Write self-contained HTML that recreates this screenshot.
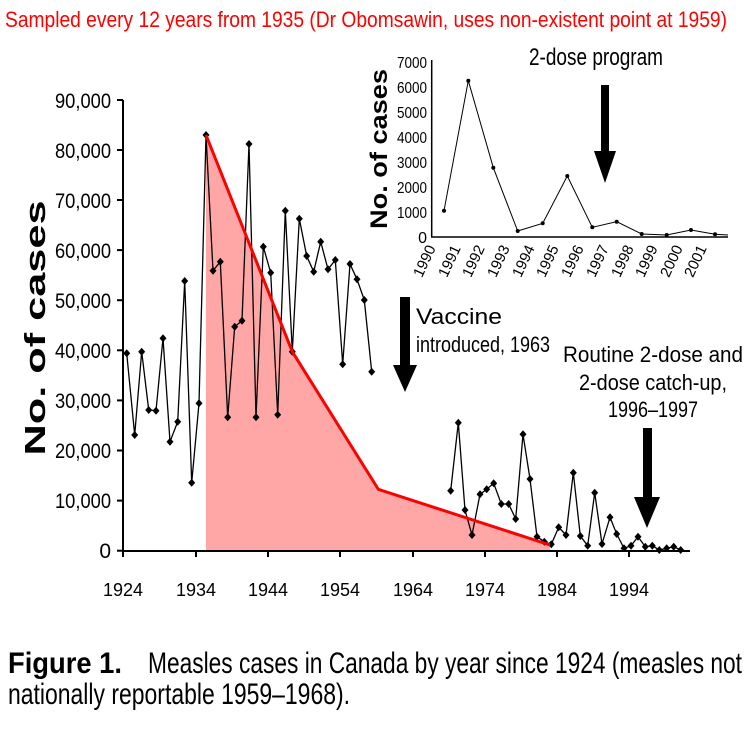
<!DOCTYPE html>
<html><head><style>
html,body{margin:0;padding:0;background:#fff;}
svg{display:block;}
text{font-family:"Liberation Sans",sans-serif;}
</style></head><body>
<svg width="747" height="748" viewBox="0 0 747 748" xmlns="http://www.w3.org/2000/svg">
<rect width="747" height="748" fill="#fff"/>
<text x="5" y="27" font-size="22" fill="#f00" textLength="722" lengthAdjust="spacingAndGlyphs">Sampled every 12 years from 1935 (Dr Obomsawin, uses non-existent point at 1959)</text>

<polygon points="206,550 206,135 292.3,351.7 378.3,489.3 550,545 550,550" fill="#ffa6a6"/>

<line x1="123" y1="100" x2="123" y2="551" stroke="#000" stroke-width="2"/>
<line x1="122" y1="551" x2="690" y2="551" stroke="#000" stroke-width="2"/>
<g stroke="#000" stroke-width="2">
<line x1="117" y1="550.7" x2="123" y2="550.7"/><line x1="117" y1="500.6" x2="123" y2="500.6"/>
<line x1="117" y1="450.5" x2="123" y2="450.5"/><line x1="117" y1="400.4" x2="123" y2="400.4"/>
<line x1="117" y1="350.3" x2="123" y2="350.3"/><line x1="117" y1="300.2" x2="123" y2="300.2"/>
<line x1="117" y1="250.1" x2="123" y2="250.1"/><line x1="117" y1="200" x2="123" y2="200"/>
<line x1="117" y1="150" x2="123" y2="150"/><line x1="117" y1="100" x2="123" y2="100"/>
<line x1="123" y1="551" x2="123" y2="557"/><line x1="196" y1="551" x2="196" y2="557"/>
<line x1="268" y1="551" x2="268" y2="557"/><line x1="340" y1="551" x2="340" y2="557"/>
<line x1="413" y1="551" x2="413" y2="557"/><line x1="485" y1="551" x2="485" y2="557"/>
<line x1="557" y1="551" x2="557" y2="557"/><line x1="629" y1="551" x2="629" y2="557"/>
</g>
<g font-size="21" text-anchor="end">
<text x="111" y="558">0</text><text x="111" y="508" textLength="56" lengthAdjust="spacingAndGlyphs">10,000</text><text x="111" y="458" textLength="56" lengthAdjust="spacingAndGlyphs">20,000</text>
<text x="111" y="408" textLength="56" lengthAdjust="spacingAndGlyphs">30,000</text><text x="111" y="358" textLength="56" lengthAdjust="spacingAndGlyphs">40,000</text><text x="111" y="308" textLength="56" lengthAdjust="spacingAndGlyphs">50,000</text>
<text x="111" y="258" textLength="56" lengthAdjust="spacingAndGlyphs">60,000</text><text x="111" y="208" textLength="56" lengthAdjust="spacingAndGlyphs">70,000</text><text x="111" y="158" textLength="56" lengthAdjust="spacingAndGlyphs">80,000</text>
<text x="111" y="108" textLength="56" lengthAdjust="spacingAndGlyphs">90,000</text>
</g>
<g font-size="18" text-anchor="middle">
<text x="123" y="596">1924</text><text x="196" y="596">1934</text><text x="268" y="596">1944</text>
<text x="340" y="596">1954</text><text x="413" y="596">1964</text><text x="485" y="596">1974</text>
<text x="557" y="596">1984</text><text x="629" y="596">1994</text>
</g>
<text transform="translate(45,328) rotate(-90)" font-size="29" font-weight="bold" text-anchor="middle" textLength="255" lengthAdjust="spacingAndGlyphs">No. of cases</text>

<g id="d1">
<polyline fill="none" stroke="#000" stroke-width="1.3" points="126.7,353.3 134.7,435 141.7,351.7 148.7,410 156,410.7 163,338.3 170,441.7 177.7,421.7 184.7,281 191.7,482.7 199,403.3 206,135 213,270.7 220.3,261.7 227.7,417.3 234.7,326.7 242,320.7 249,144 256,417.3 263.3,246.7 270.7,272.7 277.7,414.7 285.3,210.7 292.3,351.7 299.3,218.7 306.7,256 313.7,271.7 320.7,241.7 328,269.3 335.3,260 342.7,364.3 350,264 357,279.3 364.3,300 371.7,371.7"/>
<polyline fill="none" stroke="#000" stroke-width="1.3" points="450.7,490.7 458.3,422.7 465,510 472,535 480,494.3 486.7,489.3 493.7,483.3 501.3,504 508.7,504 515.7,519 523,434.3 530,479 537,536.7 544.3,541.7 551.3,544.3 558.7,527.3 566,535 573.3,472.7 580.3,536 587.7,545.7 594.7,492.7 602,544 610,517.3 616.7,534 624,548.3 631,545.7 638,536.7 645.3,546.7 652.3,545.7 659.3,550 666.7,548.3 673.7,546.7 680.7,550"/>
</g>
<g fill="#000" id="markers"></g>

<polyline fill="none" stroke="#f00" stroke-width="3" points="206,135 292.3,351.7 378.3,489.3 550,545"/>

<polygon points="400,297 410,297 410,365 417,365 405,392 393,365 400,365" fill="#000"/>
<polygon points="643,428 652,428 652,497 660,497 647,528 634,497 643,497" fill="#000"/>
<g font-size="22">
<text x="416" y="324" textLength="86" lengthAdjust="spacingAndGlyphs">Vaccine</text>
<text x="416" y="352" textLength="134" lengthAdjust="spacingAndGlyphs">introduced, 1963</text>
</g>
<g font-size="22" text-anchor="middle">
<text x="653" y="362" textLength="180" lengthAdjust="spacingAndGlyphs">Routine 2-dose and</text>
<text x="653" y="390" textLength="148" lengthAdjust="spacingAndGlyphs">2-dose catch-up,</text>
<text x="653" y="417" textLength="90" lengthAdjust="spacingAndGlyphs">1996–1997</text>
</g>

<line x1="431.7" y1="60" x2="431.7" y2="237" stroke="#000" stroke-width="1.5"/>
<line x1="431" y1="237" x2="728" y2="237" stroke="#000" stroke-width="1.5"/>
<g font-size="16" text-anchor="end">
<text x="427" y="243">0</text><text x="427" y="218" textLength="30" lengthAdjust="spacingAndGlyphs">1000</text><text x="427" y="193" textLength="30" lengthAdjust="spacingAndGlyphs">2000</text>
<text x="427" y="168" textLength="30" lengthAdjust="spacingAndGlyphs">3000</text><text x="427" y="143" textLength="30" lengthAdjust="spacingAndGlyphs">4000</text><text x="427" y="118" textLength="30" lengthAdjust="spacingAndGlyphs">5000</text>
<text x="427" y="93" textLength="30" lengthAdjust="spacingAndGlyphs">6000</text><text x="427" y="68" textLength="30" lengthAdjust="spacingAndGlyphs">7000</text>
</g>
<text transform="translate(387,149) rotate(-90)" font-size="24" font-weight="bold" text-anchor="middle" textLength="160" lengthAdjust="spacingAndGlyphs">No. of cases</text>
<g font-size="15" text-anchor="end">
<text transform="translate(436,248) rotate(-65)">1990</text>
<text transform="translate(461,248) rotate(-65)">1991</text>
<text transform="translate(485,248) rotate(-65)">1992</text>
<text transform="translate(510,248) rotate(-65)">1993</text>
<text transform="translate(535,248) rotate(-65)">1994</text>
<text transform="translate(559,248) rotate(-65)">1995</text>
<text transform="translate(584,248) rotate(-65)">1996</text>
<text transform="translate(609,248) rotate(-65)">1997</text>
<text transform="translate(634,248) rotate(-65)">1998</text>
<text transform="translate(658,248) rotate(-65)">1999</text>
<text transform="translate(683,248) rotate(-65)">2000</text>
<text transform="translate(707,248) rotate(-65)">2001</text>
</g>
<polyline fill="none" stroke="#000" stroke-width="1" points="444,210.7 468.3,80.7 493.3,167.7 517.7,231 542.7,223.3 567.3,176 592.3,227.3 616.7,221.7 641.7,234 666.7,235 691,230 715,234.3 728,235"/>
<g fill="#000">
<circle cx="444" cy="210.7" r="2"/><circle cx="468.3" cy="80.7" r="2"/><circle cx="493.3" cy="167.7" r="2"/>
<circle cx="517.7" cy="231" r="2"/><circle cx="542.7" cy="223.3" r="2"/><circle cx="567.3" cy="176" r="2"/>
<circle cx="592.3" cy="227.3" r="2"/><circle cx="616.7" cy="221.7" r="2"/><circle cx="641.7" cy="234" r="2"/>
<circle cx="666.7" cy="235" r="2"/><circle cx="691" cy="230" r="2"/><circle cx="715" cy="234.3" r="2"/>
</g>
<polygon points="601,85 609,85 609,151 616,151 605,183 594,151 601,151" fill="#000"/>
<text x="529" y="65" font-size="24" textLength="134" lengthAdjust="spacingAndGlyphs">2-dose program</text>

<text x="8" y="673" font-size="30" font-weight="bold" textLength="114" lengthAdjust="spacingAndGlyphs">Figure 1.</text>
<text x="148" y="673" font-size="30" textLength="594" lengthAdjust="spacingAndGlyphs">Measles cases in Canada by year since 1924 (measles not</text>
<text x="8" y="704" font-size="30" textLength="342" lengthAdjust="spacingAndGlyphs">nationally reportable 1959–1968).</text>
</svg>
<script>
(function(){
var g=document.getElementById('markers');
document.querySelectorAll('#d1 polyline').forEach(function(p){
 p.getAttribute('points').trim().split(/\s+/).forEach(function(s){
  var a=s.split(',');var x=+a[0],y=+a[1];
  var m=document.createElementNS('http://www.w3.org/2000/svg','polygon');
  m.setAttribute('points',(x)+','+(y-4)+' '+(x+3.5)+','+y+' '+x+','+(y+4)+' '+(x-3.5)+','+y);
  g.appendChild(m);
 });
});
})();
</script>
</body></html>
